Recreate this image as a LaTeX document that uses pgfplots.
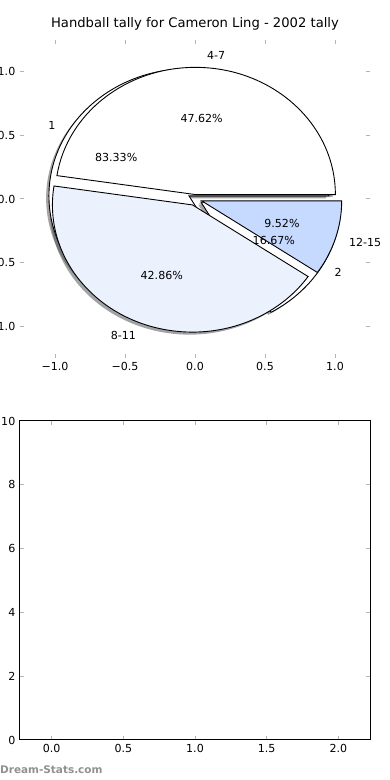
\documentclass[border=0pt]{standalone}
\usepackage{pgfplots}
\pgfplotsset{compat=1.18}
\usepackage{fontspec}
\setmainfont{DejaVu Sans}
\definecolor{sliceB}{HTML}{EBF1FD}
\definecolor{sliceC}{HTML}{C6D9FF}
\definecolor{tickgray}{HTML}{B4B4B4}
\definecolor{shadowW}{rgb}{0.3,0.3,0.3}
\definecolor{shadowB}{rgb}{0.276,0.284,0.298}
\definecolor{shadowC}{rgb}{0.233,0.256,0.3}
\definecolor{wm}{HTML}{909090}
% wedge: centre x, centre y, start angle, end angle (angles = 3.6 * percentage)
\newcommand{\wedgepath}[4]{(axis cs:#1,#2) -- (axis cs:{#1+cos(#3)},{#2+sin(#3)}) arc[start angle=#3,end angle=#4,x radius=140bp,y radius=127.2bp] -- cycle}
\pgfplotsset{mystyle/.style={
  scale only axis,
  tick align=inside, tick pos=both,
  major tick length=4.4bp,
  tick style={tickgray, line width=1bp},
  tick label style={font=\fontsize{11.1}{13}\selectfont, text=black},
  /pgf/number format/assume math mode=true,
  xticklabel style={inner sep=0pt, yshift=-4bp},
  yticklabel style={inner sep=0pt, xshift=-4.5bp},
}}
\begin{document}
\begin{tikzpicture}
\useasboundingbox (0bp,0bp) rectangle (390bp,780bp);
% ---------------- top: two overlaid pies ----------------
% pie A: "1" 83.33%, "2" 16.67%   (explode 0.05)
% pie B: "4-7" 47.62%, "8-11" 42.86%, "12-15" 9.52%
\begin{axis}[mystyle,
  at={(20bp,422bp)}, anchor=south west,
  x=140bp, y=127.2bp,
  xmin=-1.25, xmax=1.25, ymin=-1.25, ymax=1.25,
  axis line style={draw=none},
  clip=false,
  xtick={-1,-0.5,0,0.5,1}, xticklabels={−1.0,−0.5,0.0,0.5,1.0},
  ytick={-1,-0.5,0,0.5,1}, yticklabels={−1.0,−0.5,0.0,0.5,1.0},
  title={Handball tally for Cameron Ling - 2002 tally},
  title style={at={(0.5,1)}, anchor=base, yshift=6.5bp, inner sep=0pt, font=\fontsize{13.2}{15}\selectfont},
]
% shadows (offset -0.02,-0.02)
\fill[shadowW, fill opacity=0.5] \wedgepath{-0.0633}{0.005}{0}{3.6*83.33};
\fill[shadowW, fill opacity=0.5] \wedgepath{0.0233}{-0.045}{3.6*83.33}{360};
\fill[shadowW, fill opacity=0.5] \wedgepath{-0.0174}{0.0149}{0}{3.6*47.62};
\fill[shadowB, fill opacity=0.5] \wedgepath{-0.0383}{-0.0665}{3.6*47.62}{3.6*(47.62+42.86)};
\fill[shadowC, fill opacity=0.5] \wedgepath{0.0278}{-0.0347}{3.6*(47.62+42.86)}{360};
% pie A
\path[fill=white, draw=black, line width=0.9bp] \wedgepath{-0.0433}{0.025}{0}{3.6*83.33};
\path[fill=white, draw=black, line width=0.9bp] \wedgepath{0.0433}{-0.025}{3.6*83.33}{360};
% pie B
\path[fill=white, draw=black, line width=0.9bp] \wedgepath{0.0026}{0.0349}{0}{3.6*47.62};
\path[fill=sliceB, draw=black, line width=0.9bp] \wedgepath{-0.0183}{-0.0465}{3.6*47.62}{3.6*(47.62+42.86)};
\path[fill=sliceC, draw=black, line width=0.9bp] \wedgepath{0.0478}{-0.0147}{3.6*(47.62+42.86)}{360};
% labels
\begin{scope}[every node/.style={inner sep=0pt, font=\fontsize{11.1}{13}\selectfont}]
\node[anchor=east] at (axis cs:-0.9959,0.575) {1};
\node[anchor=west] at (axis cs:0.9959,-0.575) {2};
\node at (axis cs:-0.5629,0.325) {83.33\%};
\node at (axis cs:0.5629,-0.325) {16.67\%};
\node[anchor=west] at (axis cs:0.0848,1.1318) {4-7};
\node[anchor=east] at (axis cs:-0.4201,-1.0705) {8-11};
\node[anchor=west] at (axis cs:1.0989,-0.3390) {12-15};
\node at (axis cs:0.0474,0.6332) {47.62\%};
\node at (axis cs:-0.2375,-0.6051) {42.86\%};
\node at (axis cs:0.6211,-0.1916) {9.52\%};
\end{scope}
\end{axis}
% ---------------- bottom: empty axes ----------------
\begin{axis}[mystyle,
  at={(20bp,40bp)}, anchor=south west,
  width=350bp, height=319bp,
  xmin=-0.221, xmax=2.221, ymin=0, ymax=10,
  axis line style={black, line width=1bp},
  xtick={0,0.5,1,1.5,2}, xticklabels={0.0,0.5,1.0,1.5,2.0},
  ytick={0,2,4,6,8,10},
]
\end{axis}
\node[anchor=west, inner sep=0pt, text=wm, font=\bfseries\fontsize{10.5}{12}\selectfont] at (0bp,10bp) {Dream-Stats.com};
\end{tikzpicture}
\end{document}
